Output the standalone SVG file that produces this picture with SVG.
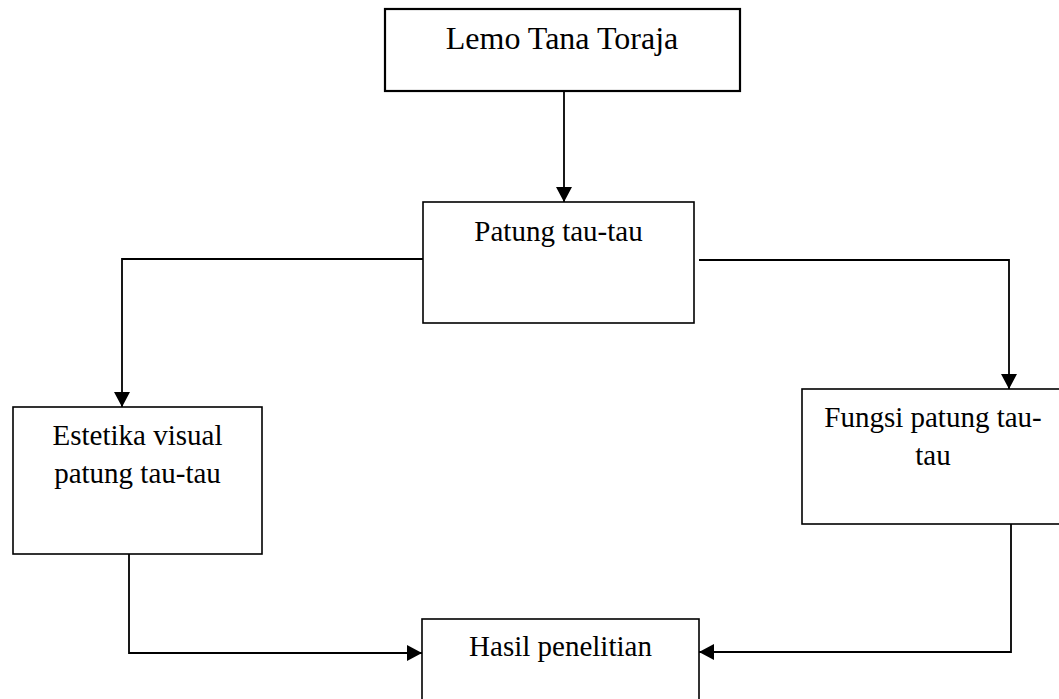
<svg xmlns="http://www.w3.org/2000/svg" width="1059" height="699" viewBox="0 0 1059 699">
<style>
.box{fill:#fff;stroke:#000;stroke-width:1.6}
.t{font-family:"Liberation Serif","Times New Roman",serif;font-size:29px;fill:#000;text-anchor:middle}
.c{fill:none;stroke:#000;stroke-width:1.8}
</style>
<defs>
<marker id="ah" markerUnits="userSpaceOnUse" markerWidth="15" markerHeight="16" refX="15" refY="8" orient="auto">
<path d="M0,0 L15,8 L0,16 z" fill="#000"/>
</marker>
</defs>
<rect width="1059" height="699" fill="#fff"/>
<g id="connectors">
<line class="c" x1="564" y1="92" x2="564" y2="202" marker-end="url(#ah)"/>
<polyline class="c" points="423,259 122,259 122,407" marker-end="url(#ah)"/>
<polyline class="c" points="699,260 1009,260 1009,389" marker-end="url(#ah)"/>
<polyline class="c" points="129,554 129,653 422,653" marker-end="url(#ah)"/>
<polyline class="c" points="1011,524 1011,652 699,652" marker-end="url(#ah)"/>
</g>
<g id="node-lemo">
<rect class="box" x="385" y="9" width="355" height="82" style="stroke-width:2.2"/>
<text class="t" x="562" y="49" style="font-size:32px">Lemo Tana Toraja</text>
</g>
<g id="node-patung">
<rect class="box" x="423" y="202" width="271" height="121"/>
<text class="t" x="558.5" y="241">Patung tau-tau</text>
</g>
<g id="node-estetika">
<rect class="box" x="13" y="407" width="249" height="147"/>
<text class="t" x="137.5" y="445">Estetika visual</text>
<text class="t" x="137.5" y="483">patung tau-tau</text>
</g>
<g id="node-fungsi">
<rect class="box" x="802" y="389" width="262" height="135"/>
<text class="t" x="933" y="427">Fungsi patung tau-</text>
<text class="t" x="933" y="465">tau</text>
</g>
<g id="node-hasil">
<rect class="box" x="422" y="619" width="277" height="100"/>
<text class="t" x="560.5" y="656">Hasil penelitian</text>
</g>
</svg>
